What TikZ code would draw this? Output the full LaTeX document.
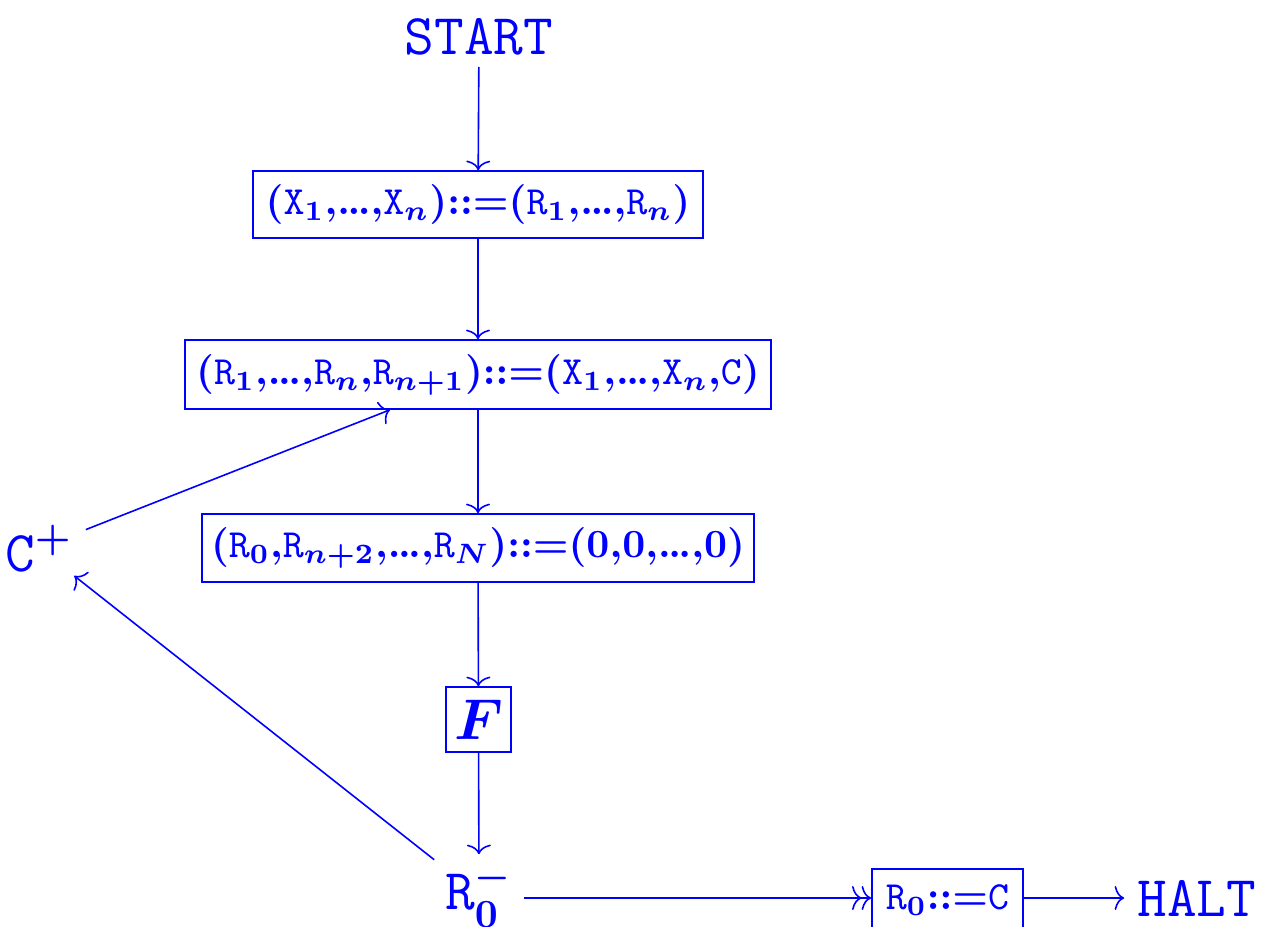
\documentclass[tikz,border=0pt]{standalone}
\usetikzlibrary{arrows.meta}
\newcommand{\dts}{.\mkern-1mu.\mkern-1mu.}
\begin{document}
\begin{tikzpicture}[x=0.25pt,y=-0.25pt, line width=0.4pt,
  every node/.style={text=blue},
  box/.style={draw=blue, inner sep=0pt, font=\fontsize{10.1}{12}\selectfont\boldmath},
  big/.style={inner sep=0pt, font=\fontsize{14.4}{17}\selectfont\boldmath},
  arr/.style={draw=blue, -{To[length=2.4pt,width=6pt]}},
  darr/.style={draw=blue, -{To[length=2.4pt,width=6pt]To[length=2.4pt,width=6pt]}}]
\useasboundingbox (0,0) rectangle (1268,926);
\node[big, minimum height=14.5pt] (start) at (479,37) {\texttt{START}};
\node[box, minimum width=112.5pt, minimum height=16.75pt] (b1) at (478,204.5)
  {$(\mathtt{X}_1{,}\dts{,}\mathtt{X}_n){::=}(\mathtt{R}_1{,}\dts{,}\mathtt{R}_n)$};
\node[box, minimum width=146.5pt, minimum height=17.25pt] (b2) at (478,374.5)
  {$(\mathtt{R}_1{,}\dts{,}\mathtt{R}_n{,}\mathtt{R}_{n+1}){::=}(\mathtt{X}_1{,}\dts{,}\mathtt{X}_n{,}\mathtt{C})$};
\node[box, minimum width=138pt, minimum height=17pt] (b3) at (478,548)
  {$(\mathtt{R}_0{,}\mathtt{R}_{n+2}{,}\dts{,}\mathtt{R}_N){::=}(0{,}0{,}\dts{,}0)$};
\node[box, minimum width=16.25pt, minimum height=16.25pt, font=\fontsize{15.5}{17}\selectfont\boldmath] (f) at (478.5,719.5) {$F$};
\node[big, minimum width=22pt, minimum height=20pt] (r0m) at (479,895) {$\mathtt{R}_0^-$};
\node[box, minimum width=37.75pt, minimum height=15.5pt] (r0c) at (947.5,900) {$\mathtt{R}_0{::=}\mathtt{C}$};
\node[big, minimum width=36pt] (halt) at (1197,898) {\texttt{HALT}};
\node[big, minimum width=23pt, minimum height=13.5pt] (cplus) at (39,548) {$\mathtt{C}^+$};
\draw[arr] (start) -- (b1);
\draw[arr] (b1) -- (b2);
\draw[arr] (b2) -- (b3);
\draw[arr] (b3) -- (f);
\draw[arr] (f) -- (r0m);
\draw[darr] (r0m.east |- halt.west) -- (r0c.west |- halt.west);
\draw[arr] (r0c.east |- halt.west) -- (halt.west);
\draw[arr] (cplus) -- ([xshift=-22pt]b2.south);
\draw[arr] (r0m) -- (cplus);
\end{tikzpicture}
\end{document}
